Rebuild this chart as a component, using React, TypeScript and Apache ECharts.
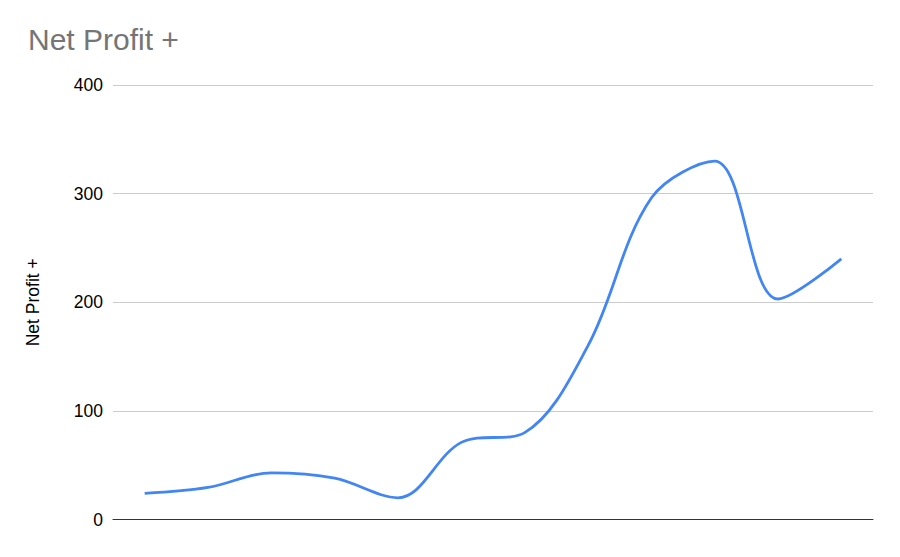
import React, { useEffect, useRef } from "react";
import * as echarts from "echarts";

const categories = ["1", "2", "3", "4", "5", "6", "7", "8", "9", "10", "11", "12"];
const netProfit = [24, 29.5, 43, 38, 20, 71, 80, 160, 296, 330, 203, 240];
const yTicks = { min: 0, max: 400, interval: 100 };

const App: React.FC = () => {
  const chartRef = useRef<HTMLDivElement>(null);

  useEffect(() => {
    if (!chartRef.current) return;
    const chart = echarts.init(chartRef.current, null, { renderer: "svg" });

    const option: echarts.EChartsOption = {
      animation: false,
      textStyle: { fontFamily: "Liberation Sans, Arial, sans-serif" },
      title: {
        text: "Net Profit +",
        left: 28,
        top: 24,
        padding: 0,
        textStyle: {
          color: "#757575",
          fontSize: 30,
          fontWeight: "normal",
          fontFamily: "Liberation Sans, Arial, sans-serif",
        },
      },
      grid: { left: 113, right: 27, top: 85, bottom: 37.5 },
      xAxis: {
        type: "category",
        data: categories,
        boundaryGap: true,
        axisLine: { show: true, lineStyle: { color: "#333333", width: 1 } },
        axisTick: { show: false },
        axisLabel: { show: false },
        splitLine: { show: false },
      },
      yAxis: {
        type: "value",
        min: yTicks.min,
        max: yTicks.max,
        interval: yTicks.interval,
        name: "Net Profit +",
        nameLocation: "middle",
        nameGap: 71,
        nameTextStyle: { color: "#000000", fontSize: 17.5 },
        axisLine: { show: false },
        axisTick: { show: false },
        axisLabel: { color: "#000000", fontSize: 17.5, margin: 10 },
        splitLine: { lineStyle: { color: "#cccccc", width: 1 } },
      },
      series: [
        {
          type: "line",
          data: netProfit,
          smooth: 0.35,
          showSymbol: false,
          lineStyle: { color: "#4285f4", width: 2.8 },
          itemStyle: { color: "#4285f4" },
        },
      ],
    };

    chart.setOption(option);
    return () => {
      chart.dispose();
    };
  }, []);

  return (
    <div
      ref={chartRef}
      style={{ position: "absolute", left: 0, top: 0, width: "900px", height: "557px" }}
    />
  );
};

export default App;
